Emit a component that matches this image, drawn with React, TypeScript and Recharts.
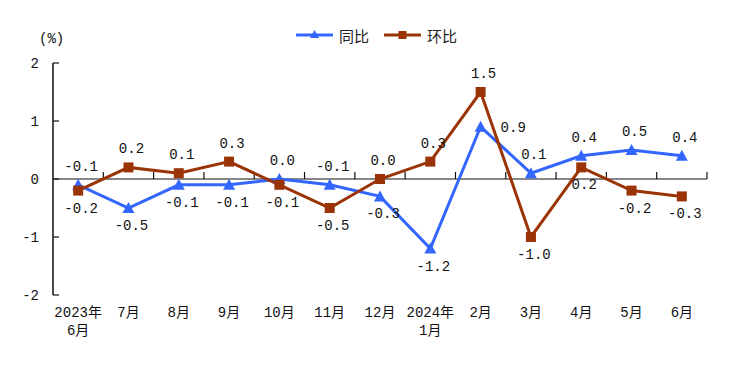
import React from 'react';
import { ComposedChart, Line, XAxis, YAxis, ReferenceLine, LabelList } from 'recharts';

const months = ['2023年\n6月', '7月', '8月', '9月', '10月', '11月', '12月', '2024年\n1月', '2月', '3月', '4月', '5月', '6月'];
const yoy = [-0.1, -0.5, -0.1, -0.1, 0.0, -0.1, -0.3, -1.2, 0.9, 0.1, 0.4, 0.5, 0.4];
const mom = [-0.2, 0.2, 0.1, 0.3, -0.1, -0.5, 0.0, 0.3, 1.5, -1.0, 0.2, -0.2, -0.3];
const yTicks = [-2, -1, 0, 1, 2];
const seriesNames = ['同比', '环比'];
const unitLabel = '(%)';

const BLUE = '#3366FF';
const RED = '#9A3406';
const NUM_FONT = '"Liberation Mono", "Noto Sans CJK SC", monospace';
const CJK_FONT = '"Liberation Mono", "Noto Sans CJK SC", sans-serif';

const data = months.map((m, i) => ({ month: m, yoy: yoy[i], mom: mom[i] }));

const makeLabel = (own: number[], other: number[]) => (props: any) => {
  const { x, y, index } = props;
  if (x == null || y == null) return null;
  const v = own[index];
  const o = other[index];
  let tx = x + 3;
  let ty: number;
  let anchor: 'middle' | 'start' = 'middle';
  if (v >= o) {
    ty = y - 14;
  } else if (v > 0 && o - v > 0.5) {
    tx = x + 20;
    ty = y + 5;
    anchor = 'start';
  } else {
    ty = y + 22;
  }
  return (
    <text key={`l-${index}`} x={tx} y={ty} textAnchor={anchor} fontFamily={NUM_FONT} fontSize={14} fill="#111">
      {v.toFixed(1)}
    </text>
  );
};

const TriangleDot = (p: any) => {
  const { cx, cy, index } = p;
  if (cx == null || cy == null) return null;
  return <path key={`t-${index}`} d={`M${cx},${cy - 6} L${cx + 6},${cy + 5} L${cx - 6},${cy + 5} Z`} fill={BLUE} />;
};

const SquareDot = (p: any) => {
  const { cx, cy, index } = p;
  if (cx == null || cy == null) return null;
  return <rect key={`s-${index}`} x={cx - 5} y={cy - 5} width={10} height={10} fill={RED} />;
};

const ZeroAxis = (p: any) => {
  const { x1, x2, y1 } = p;
  const n = months.length;
  const step = (x2 - x1) / n;
  return (
    <g>
      <line x1={x1} y1={y1} x2={x2} y2={y1} stroke="#111" strokeWidth={1.2} />
      {Array.from({ length: n }, (_, k) => (
        <line key={k} x1={x1 + (k + 1) * step} x2={x1 + (k + 1) * step} y1={y1 - 7} y2={y1} stroke="#111" strokeWidth={1.2} />
      ))}
    </g>
  );
};

const XTick = (p: any) => {
  const { x, y, payload } = p;
  const lines = String(payload.value).split('\n');
  return (
    <g>
      {lines.map((t, i) => (
        <text key={i} x={x} y={y + 22 + i * 18} textAnchor="middle" fontFamily={CJK_FONT} fontSize={14} fill="#111">
          {t}
        </text>
      ))}
    </g>
  );
};

const YTick = (p: any) => {
  const { x, y, payload } = p;
  return (
    <g>
      <line x1={x + 14} x2={x + 20} y1={y} y2={y} stroke="#111" strokeWidth={1.2} />
      <text x={x} y={y + 5} textAnchor="end" fontFamily={NUM_FONT} fontSize={14} fill="#111">
        {payload.value}
      </text>
    </g>
  );
};

export default function App() {
  return (
    <div style={{ position: 'absolute', left: 0, top: 0, width: 737, height: 365, background: '#fff' }}>
      <ComposedChart width={737} height={365} data={data} margin={{ top: 63, right: 30, bottom: 40, left: 0 }}>
        <XAxis
          dataKey="month"
          scale="band"
          axisLine={false}
          tickLine={false}
          tickSize={0}
          tickMargin={0}
          height={30}
          interval={0}
          tick={<XTick />}
        />
        <YAxis
          type="number"
          domain={[-2, 2]}
          ticks={yTicks}
          width={53}
          tickSize={0}
          tickMargin={14}
          tickLine={false}
          axisLine={{ stroke: '#111', strokeWidth: 1.5 }}
          tick={<YTick />}
        />
        <ReferenceLine y={0} shape={ZeroAxis} ifOverflow="visible" />
        <Line
          dataKey="yoy"
          name={seriesNames[0]}
          stroke={BLUE}
          strokeWidth={3}
          dot={TriangleDot}
          activeDot={false}
          isAnimationActive={false}
        >
          <LabelList dataKey="yoy" content={makeLabel(yoy, mom)} />
        </Line>
        <Line
          dataKey="mom"
          name={seriesNames[1]}
          stroke={RED}
          strokeWidth={3}
          dot={SquareDot}
          activeDot={false}
          isAnimationActive={false}
        >
          <LabelList dataKey="mom" content={makeLabel(mom, yoy)} />
        </Line>
      </ComposedChart>
      <div
        style={{
          position: 'absolute',
          left: 39,
          top: 31,
          fontFamily: CJK_FONT,
          fontSize: 14,
          color: '#111',
        }}
      >
        {unitLabel}
      </div>
      <div
        style={{
          position: 'absolute',
          left: 296,
          top: 25,
          height: 20,
          display: 'flex',
          alignItems: 'center',
          fontFamily: '"Noto Sans CJK SC", sans-serif',
          fontSize: 15,
          color: '#222',
        }}
      >
        <svg width={37} height={16} style={{ marginRight: 6 }}>
          <line x1={0} x2={37} y1={8} y2={8} stroke={BLUE} strokeWidth={3} />
          <path d="M18.5,3 L23,11 L14,11 Z" fill={BLUE} />
        </svg>
        <span style={{ marginRight: 15 }}>{seriesNames[0]}</span>
        <svg width={37} height={16} style={{ marginRight: 6 }}>
          <line x1={0} x2={37} y1={8} y2={8} stroke={RED} strokeWidth={3} />
          <rect x={14.5} y={4} width={8} height={8} fill={RED} />
        </svg>
        <span>{seriesNames[1]}</span>
      </div>
    </div>
  );
}
